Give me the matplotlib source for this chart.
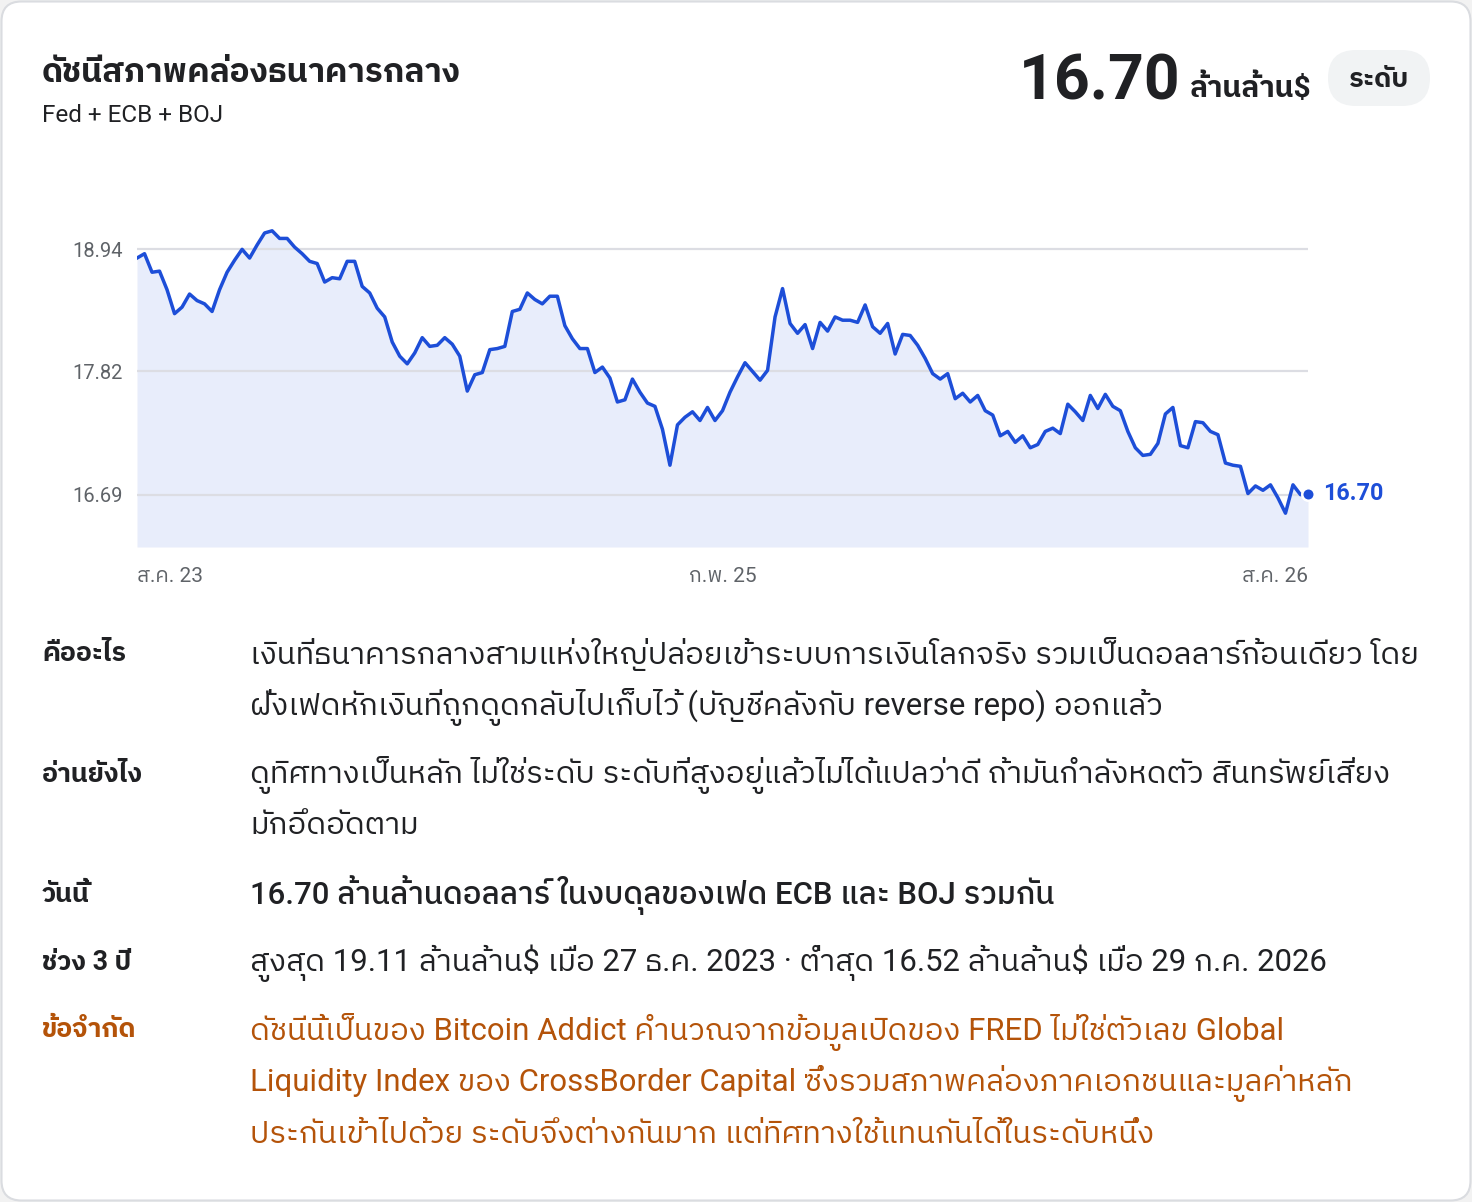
import matplotlib
matplotlib.use('Agg')
from matplotlib import pyplot as plt
from matplotlib.patches import FancyBboxPatch
import pandas as pd

plt.rcParams['font.family'] = ['Roboto', 'IBM Plex Sans Thai']
plt.rcParams['text.parse_math'] = False  # "$" is a currency sign here

# weekly combined balance sheet, trillion USD (Fed + ECB + BOJ)
start_date = '2023-08-23'
liquidity = [
    18.86, 18.90, 18.73, 18.74, 18.57, 18.35, 18.41, 18.53, 18.47, 18.44,
    18.37, 18.57, 18.73, 18.84, 18.94, 18.86, 18.98, 19.09, 19.11, 19.04,
    19.04, 18.96, 18.90, 18.83, 18.81, 18.64, 18.68, 18.67, 18.83, 18.83,
    18.60, 18.54, 18.40, 18.32, 18.09, 17.96, 17.89, 17.99, 18.13, 18.05,
    18.06, 18.13, 18.07, 17.96, 17.64, 17.79, 17.81, 18.02, 18.03, 18.05,
    18.37, 18.39, 18.54, 18.48, 18.44, 18.51, 18.51, 18.24, 18.12, 18.03,
    18.03, 17.81, 17.86, 17.76, 17.54, 17.56, 17.75, 17.63, 17.53, 17.50,
    17.29, 16.96, 17.33, 17.40, 17.45, 17.37, 17.49, 17.37, 17.46, 17.63,
    17.77, 17.90, 17.82, 17.74, 17.83, 18.32, 18.58, 18.26, 18.17, 18.25,
    18.03, 18.27, 18.19, 18.32, 18.29, 18.29, 18.27, 18.43, 18.23, 18.17,
    18.26, 17.98, 18.16, 18.15, 18.06, 17.94, 17.80, 17.75, 17.80, 17.57,
    17.62, 17.54, 17.60, 17.46, 17.42, 17.23, 17.27, 17.17, 17.23, 17.12,
    17.15, 17.27, 17.30, 17.25, 17.52, 17.45, 17.37, 17.60, 17.48, 17.61,
    17.50, 17.46, 17.27, 17.12, 17.05, 17.06, 17.16, 17.43, 17.49, 17.14,
    17.12, 17.36, 17.35, 17.27, 17.24, 16.98, 16.96, 16.95, 16.70, 16.77,
    16.73, 16.78, 16.66, 16.52, 16.78, 16.69, 16.70,
]
dates = pd.date_range(start_date, periods=len(liquidity), freq='7D')

y_ticks = [16.69, 17.82, 18.94]
x_tick_labels = ['ส.ค. 23', 'ก.พ. 25', 'ส.ค. 26']

title = 'ดัชนีสภาพคล่องธนาคารกลาง'
subtitle = 'Fed + ECB + BOJ'
unit = 'ล้านล้าน$'
badge = 'ระดับ'

rows = [
    ('คืออะไร', ['เงินที่ธนาคารกลางสามแห่งใหญ่ปล่อยเข้าระบบการเงินโลกจริง รวมเป็นดอลลาร์ก้อนเดียว โดย',
                 'ฝั่งเฟดหักเงินที่ถูกดูดกลับไปเก็บไว้ (บัญชีคลังกับ reverse repo) ออกแล้ว']),
    ('อ่านยังไง', ['ดูทิศทางเป็นหลัก ไม่ใช่ระดับ ระดับที่สูงอยู่แล้วไม่ได้แปลว่าดี ถ้ามันกำลังหดตัว สินทรัพย์เสี่ยง',
                   'มักอึดอัดตาม']),
    ('วันนี้', ['16.70 ล้านล้านดอลลาร์ ในงบดุลของเฟด ECB และ BOJ รวมกัน']),
    ('ช่วง 3 ปี', ['สูงสุด 19.11 ล้านล้าน$ เมื่อ 27 ธ.ค. 2023 · ต่ำสุด 16.52 ล้านล้าน$ เมื่อ 29 ก.ค. 2026']),
    ('ข้อจำกัด', ['ดัชนีนี้เป็นของ Bitcoin Addict คำนวณจากข้อมูลเปิดของ FRED ไม่ใช่ตัวเลข Global',
                  'Liquidity Index ของ CrossBorder Capital ซึ่งรวมสภาพคล่องภาคเอกชนและมูลค่าหลัก',
                  'ประกันเข้าไปด้วย ระดับจึงต่างกันมาก แต่ทิศทางใช้แทนกันได้ในระดับหนึ่ง']),
]

LINE = '#1d4ed8'
FILL = '#e8edfb'
GRID = '#dcdde3'
DARK = '#202124'
MUTED = '#5f6368'
WARN = '#b45309'

W, H = 1472, 1202
fig = plt.figure(figsize=(W / 100, H / 100), dpi=100, facecolor='#f2f2f2')

# page layer in pixel units
page = fig.add_axes([0, 0, 1, 1])
page.set_xlim(0, W)
page.set_ylim(H, 0)
page.axis('off')
page.add_patch(FancyBboxPatch((1.5, 1.5), W - 3, H - 3, boxstyle='round,pad=0,rounding_size=20',
                              facecolor='white', edgecolor='#dadce0', linewidth=1.5))

page.text(42, 82, title, fontsize=24, fontweight='bold', color=DARK, va='baseline')
page.text(42, 122, subtitle, fontsize=17.5, color=DARK, va='baseline')
page.text(1180, 99, f'{liquidity[-1]:.2f}', fontsize=45, fontweight='bold', color=DARK,
          ha='right', va='baseline')
page.text(1190, 97, unit, fontsize=21.5, fontweight='bold', color=DARK, va='baseline')
page.add_patch(FancyBboxPatch((1328, 50), 102, 56, boxstyle='round,pad=0,rounding_size=28',
                              facecolor='#f1f3f4', edgecolor='none'))
page.text(1379, 87, badge, fontsize=19.5, fontweight='bold', color=DARK, ha='center', va='baseline')

# rows of notes under the chart
label_base = [661, 782, 902, 970, 1037]
value_base = [664, 783, 904, 971, 1040]
for i, (label, lines) in enumerate(rows):
    color = WARN if i == len(rows) - 1 else DARK
    weight = 'medium' if i == 2 else 'normal'
    page.text(42, label_base[i], label, fontsize=19.3, fontweight='bold', color=color, va='baseline')
    for j, line in enumerate(lines):
        page.text(250, value_base[i] + j * 51.5, line, fontsize=22.4, fontweight=weight,
                  color=color, va='baseline')

# chart
ax = fig.add_axes([137 / W, 1 - 547 / H, (1308 - 137) / W, (547 - 197) / H])
ax.set_facecolor('none')
y_min, y_max = 16.21, 19.42
ax.fill_between(dates, liquidity, y_min, color=FILL, linewidth=0, zorder=1)
for t in y_ticks:
    ax.axhline(t, color=GRID, linewidth=1.6, zorder=2)
ax.plot(dates, liquidity, color=LINE, linewidth=2.5, solid_joinstyle='round', zorder=3)
ax.plot(dates[-1], liquidity[-1], 'o', color=LINE, markersize=9, markeredgecolor='white',
        markeredgewidth=1.8, zorder=4, clip_on=False)
ax.annotate(f'{liquidity[-1]:.2f}', (dates[-1], liquidity[-1]), xytext=(11, 0),
            textcoords='offset points', ha='left', va='center', fontsize=16.8,
            fontweight='bold', color=LINE, annotation_clip=False)

ax.set_xlim(dates[0], dates[-1])
ax.set_ylim(y_min, y_max)
ax.set_yticks(y_ticks)
ax.set_yticklabels([f'{t:.2f}' for t in y_ticks])
mid = dates[0] + (dates[-1] - dates[0]) / 2
ax.set_xticks([dates[0], mid, dates[-1]])
ax.set_xticklabels(x_tick_labels)
for lbl, ha in zip(ax.get_xticklabels(), ['left', 'center', 'right']):
    lbl.set_horizontalalignment(ha)
ax.tick_params(axis='y', length=0, pad=10, labelsize=14.5, labelcolor=MUTED)
ax.tick_params(axis='x', length=0, pad=14.5, labelsize=15, labelcolor=MUTED)
for s in ax.spines.values():
    s.set_visible(False)

fig.savefig('out.png', dpi=100, facecolor=fig.get_facecolor())
